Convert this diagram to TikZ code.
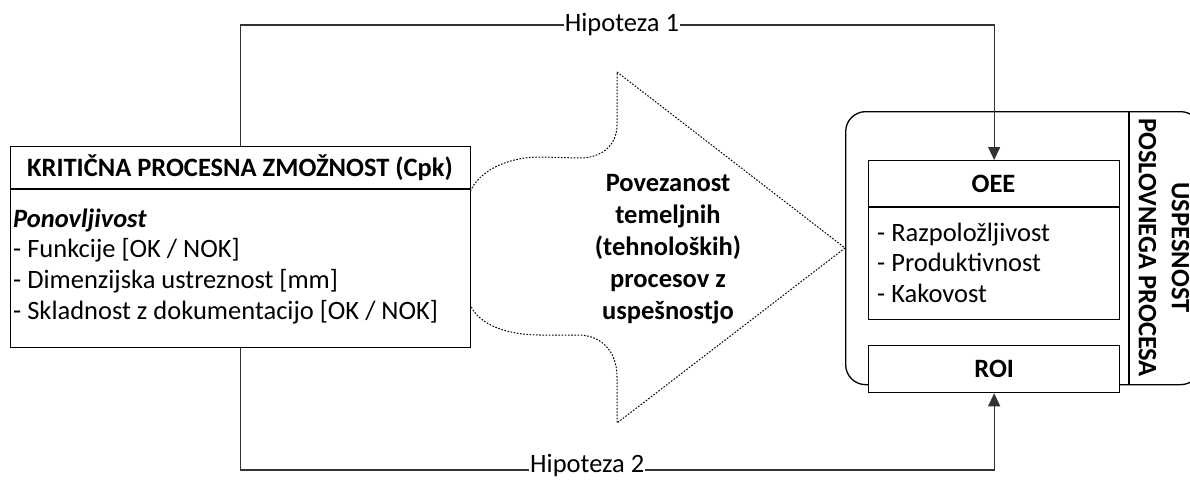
\documentclass[tikz,border=0pt]{standalone}
\usepackage{fontspec}
\setmainfont{Carlito}
\usetikzlibrary{arrows.meta}
\begin{document}
\begin{tikzpicture}[x=1pt,y=-1pt,
  box/.style={draw=black,line width=1.3pt,fill=white,inner sep=0pt,anchor=north west},
  conn/.style={draw=black!80,line width=1.3pt},
  tip/.style={-{Triangle[length=13pt,width=12pt]}},
  lbl/.style={fill=white,inner sep=0.8pt,font=\fontsize{26.5}{30}\selectfont},
  txt/.style={inner sep=0pt,font=\fontsize{26.5}{32}\selectfont},
  btxt/.style={inner sep=0pt,font=\fontsize{26.5}{32}\selectfont\bfseries},
  ]
\clip (0,0) rectangle (1190,479);
\fill[white] (0,0) rectangle (1190,479);

% big dotted arrow
\draw[line width=1pt, dash pattern=on 1.6pt off 1.6pt]
  (617,72) -- (845,248) -- (617,423) -- (617,377)
  .. controls (617,350) and (600,335) .. (578,335)
  -- (540,335)
  .. controls (500,335) and (468,320) .. (468,293)
  -- (468,203)
  .. controls (468,178) and (500,157) .. (540,157)
  -- (580,158)
  .. controls (602,158) and (617,145) .. (617,125)
  -- cycle;
\node[btxt, align=center] (link) at (668,249)
  {Povezanost\\temeljnih\\(tehnoloških)\\procesov z\\uspešnostjo};

% left box
\node[box, minimum width=460, minimum height=201] (kbox) at (10,146) {};
\draw[line width=1.3pt] (kbox.west |- 0,189) -- (kbox.east |- 0,189);
\node[btxt] (khead) at (240,167.5) {KRITIČNA PROCESNA ZMOŽNOST (Cpk)};
\node[txt, anchor=base west] (k1) at (13,227) {\bfseries\itshape Ponovljivost};
\node[txt, anchor=base west] (k2) at (13,257.8) {- Funkcije [OK / NOK]};
\node[txt, anchor=base west] (k3) at (13,288.6) {- Dimenzijska ustreznost [mm]};
\node[txt, anchor=base west] (k4) at (13,319.4) {- Skladnost z dokumentacijo [OK / NOK]};

% right group
\node[draw=black, line width=1.3pt, rounded corners=20pt, minimum width=355, minimum height=273,
  anchor=north west, inner sep=0pt] (outer) at (845,111) {};
\draw[line width=1.3pt] (1129,111) -- (1129,384);
\node[btxt, rotate=-90, align=center] (usp) at (1164,247.5) {USPESNOST\\[1pt]POSLOVNEGA PROCESA};

\node[box, minimum width=251, minimum height=159] (oee) at (868,160) {};
\draw[line width=1.3pt] (oee.west |- 0,207) -- (oee.east |- 0,207);
\node[btxt] (oeeh) at (993.5,183.5) {OEE};
\node[txt, anchor=base west] (o1) at (877,241) {- Razpoložljivost};
\node[txt, anchor=base west] (o2) at (877,271.5) {- Produktivnost};
\node[txt, anchor=base west] (o3) at (877,302) {- Kakovost};

\node[box, minimum width=251, minimum height=47] (roi) at (868,345) {};
\node[btxt] (roih) at (roi.center) {ROI};

% connectors
\draw[conn, tip] (kbox.north) -- (kbox.north |- 0,25)
  -- node[lbl, pos=0.506] (h1) {Hipoteza 1} (oee.north |- 0,25) -- (oee.north);
\draw[conn, tip] (kbox.south) -- (kbox.south |- 0,470)
  -- node[lbl, pos=0.46, yshift=4.5pt] (h2) {Hipoteza 2} (roi.south |- 0,470) -- (roi.south);
\end{tikzpicture}
\end{document}
